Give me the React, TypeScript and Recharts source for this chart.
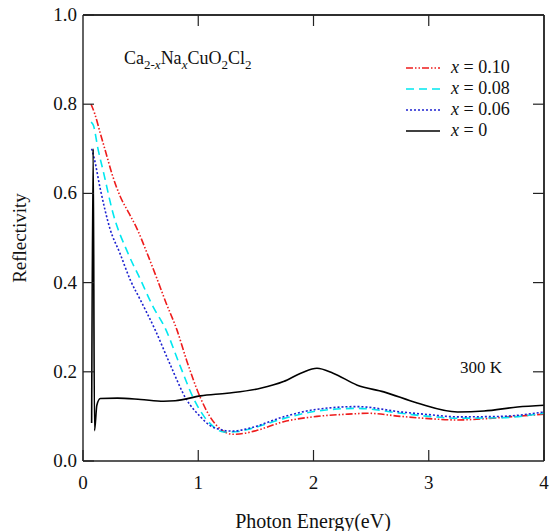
import React from "react";
import { Line, LineChart, ReferenceLine, XAxis, YAxis } from "recharts";

// Ca2-xNaxCuO2Cl2 reflectivity at 300 K
const X_TICKS = [0, 1, 2, 3, 4];
const Y_TICKS = [0, 0.2, 0.4, 0.6, 0.8, 1.0];

const x010 = [0.07, 0.1, 0.15, 0.2, 0.25, 0.32, 0.4, 0.47, 0.55, 0.64, 0.72, 0.815, 0.9, 1.02, 1.1, 1.2, 1.3, 1.4, 1.5, 1.74, 2.03, 2.3, 2.47, 2.76, 3.0, 3.25, 3.5, 3.75, 4.0];
const r010 = [0.8, 0.78, 0.735, 0.69, 0.645, 0.595, 0.555, 0.52, 0.47, 0.41, 0.355, 0.294, 0.225, 0.141, 0.1, 0.07, 0.06, 0.062, 0.068, 0.088, 0.1, 0.105, 0.107, 0.1, 0.095, 0.092, 0.095, 0.1, 0.105];

const x008 = [0.07, 0.09, 0.13, 0.18, 0.26, 0.39, 0.5, 0.6, 0.72, 0.84, 0.96, 1.05, 1.12, 1.22, 1.35, 1.45, 1.74, 2.03, 2.38, 2.76, 3.0, 3.25, 3.62, 4.0];
const r008 = [0.76, 0.753, 0.7, 0.645, 0.556, 0.466, 0.406, 0.35, 0.294, 0.215, 0.14, 0.1, 0.08, 0.065, 0.066, 0.072, 0.095, 0.112, 0.118, 0.107, 0.1, 0.096, 0.097, 0.107];

const x006 = [0.075, 0.096, 0.15, 0.235, 0.32, 0.41, 0.5, 0.626, 0.75, 0.9, 1.02, 1.1, 1.17, 1.3, 1.45, 1.74, 2.03, 2.38, 2.76, 3.0, 3.25, 3.62, 4.0];
const r006 = [0.7, 0.68, 0.61, 0.52, 0.466, 0.406, 0.36, 0.294, 0.22, 0.137, 0.099, 0.08, 0.072, 0.067, 0.074, 0.099, 0.116, 0.122, 0.11, 0.104, 0.099, 0.1, 0.11];

const x000 = [0.075, 0.088, 0.1, 0.12, 0.15, 0.3, 0.5, 0.7, 0.8, 1.02, 1.25, 1.54, 1.74, 1.9, 2.03, 2.17, 2.38, 2.61, 2.9, 3.25, 3.48, 3.77, 4.0];
const r000 = [0.085, 0.7, 0.068, 0.125, 0.14, 0.141, 0.138, 0.134, 0.135, 0.146, 0.152, 0.163, 0.178, 0.198, 0.208, 0.197, 0.17, 0.155, 0.13, 0.11, 0.112, 0.121, 0.125];

const toRows = (xs: number[], ys: number[]) => xs.map((x, i) => ({ e: x, r: ys[i] }));

// built once so every render hands recharts the same array references
// the x = 0 trace sits on the top/right axes so those get drawn too (same domains)
const SERIES = [
  { key: "0.10", rows: toRows(x010, r010), color: "#ee1c1c", dash: "7 2 1.5 2 1.5 2", xa: "b", ya: "l" },
  { key: "0.08", rows: toRows(x008, r008), color: "#00e8f0", dash: "8 5", xa: "b", ya: "l" },
  { key: "0.06", rows: toRows(x006, r006), color: "#1e22d0", dash: "2 2", xa: "b", ya: "l" },
  { key: "0", rows: toRows(x000, r000), color: "#000000", dash: undefined, xa: "t", ya: "r" },
];

const FONT = "'Liberation Serif', 'Times New Roman', serif";
const TICK_LEN = 11;
const FRAME = { stroke: "#222", strokeWidth: 1.4 };
const MARGIN = { top: 0, right: 0, bottom: 0, left: 0 };
const TOP_TICKS = [1, 2, 3];
const SIDE_TICKS = [0.2, 0.4, 0.6, 0.8];
const X_DOMAIN = [0, 4];
const Y_DOMAIN = [0, 1];

function BottomTick({ x, y, payload }: any) {
  return (
    <g>
      <line x1={x} y1={y} x2={x} y2={y - TICK_LEN} stroke="#222" strokeWidth={1.2} />
      <text x={x} y={y + 28} textAnchor="middle" fontSize={19} fill="#111" fontFamily={FONT}>
        {payload.value}
      </text>
    </g>
  );
}

function TopTick({ x, y }: any) {
  return <line x1={x} y1={y} x2={x} y2={y + TICK_LEN} stroke="#222" strokeWidth={1.2} />;
}

function LeftTick({ x, y, payload }: any) {
  return (
    <g>
      <line x1={x} y1={y} x2={x + TICK_LEN} y2={y} stroke="#222" strokeWidth={1.2} />
      <text x={x - 6} y={y + 6} textAnchor="end" fontSize={19} fill="#111" fontFamily={FONT}>
        {payload.value.toFixed(1)}
      </text>
    </g>
  );
}

function RightTick({ x, y }: any) {
  return <line x1={x} y1={y} x2={x - TICK_LEN} y2={y} stroke="#222" strokeWidth={1.2} />;
}

function LegendBox() {
  return (
    <div style={{ fontFamily: FONT, fontSize: 18, color: "#111" }}>
      {SERIES.map((s) => (
        <div key={s.key} style={{ display: "flex", alignItems: "center", height: 21 }}>
          <svg width={40} height={10} style={{ marginRight: 7 }}>
            <line x1={2} y1={5} x2={36} y2={5} stroke={s.color} strokeWidth={1.6} strokeDasharray={s.dash} />
          </svg>
          <span>
            <i>x</i> = {s.key}
          </span>
        </div>
      ))}
    </div>
  );
}

export default function App() {
  return (
    <div style={{ position: "absolute", left: 0, top: 0, width: 550, height: 531, background: "#fff" }}>
      <LineChart width={550} height={531} margin={MARGIN}>
        <XAxis
          xAxisId="b" dataKey="e" type="number" domain={X_DOMAIN} ticks={X_TICKS}
          height={70} tickSize={0} tickMargin={0} tickLine={false} allowDataOverflow
          axisLine={FRAME} tick={<BottomTick />}
        />
        <XAxis
          xAxisId="t" orientation="top" dataKey="e" type="number" domain={X_DOMAIN} ticks={TOP_TICKS}
          height={15} tickSize={0} tickMargin={0} tickLine={false} allowDataOverflow
          axisLine={FRAME} tick={<TopTick />}
        />
        <YAxis
          yAxisId="l" type="number" domain={Y_DOMAIN} ticks={Y_TICKS} width={83}
          tickSize={0} tickMargin={0} tickLine={false} allowDataOverflow
          axisLine={FRAME} tick={<LeftTick />}
        />
        <YAxis
          yAxisId="r" orientation="right" type="number" domain={Y_DOMAIN} ticks={SIDE_TICKS} width={6}
          tickSize={0} tickMargin={0} tickLine={false} allowDataOverflow
          axisLine={FRAME} tick={<RightTick />}
        />
        <ReferenceLine xAxisId="b" yAxisId="l" y={1} stroke="#222" strokeWidth={1.4} />
        <ReferenceLine xAxisId="b" yAxisId="l" x={4} stroke="#222" strokeWidth={1.4} />
        {SERIES.map((s) => (
          <Line
            key={s.key}
            xAxisId={s.xa}
            yAxisId={s.ya}
            data={s.rows}
            dataKey="r"
            type="monotone"
            stroke={s.color}
            strokeWidth={1.6}
            strokeDasharray={s.dash}
            dot={false}
            isAnimationActive={false}
          />
        ))}
      </LineChart>
      <div style={{ position: "absolute", left: 404, top: 57 }}>
        <LegendBox />
      </div>
      <div style={{ position: "absolute", left: 124, top: 48, fontFamily: FONT, fontSize: 18, color: "#111", whiteSpace: "nowrap" }}>
        Ca<sub style={{ fontSize: 13 }}>2-<i>x</i></sub>Na<sub style={{ fontSize: 13 }}><i>x</i></sub>CuO<sub style={{ fontSize: 13 }}>2</sub>Cl<sub style={{ fontSize: 13 }}>2</sub>
      </div>
      <div style={{ position: "absolute", left: 460, top: 358, fontFamily: FONT, fontSize: 17, color: "#111", whiteSpace: "nowrap" }}>
        300 K
      </div>
      <div style={{ position: "absolute", left: 163, top: 511, width: 300, lineHeight: "20px", textAlign: "center", fontFamily: FONT, fontSize: 20, color: "#111" }}>
        Photon Energy(eV)
      </div>
      <div style={{ position: "absolute", left: -80, top: 226, width: 200, lineHeight: "24px", textAlign: "center", fontFamily: FONT, fontSize: 19, color: "#111", transform: "rotate(-90deg)" }}>
        Reflectivity
      </div>
    </div>
  );
}
